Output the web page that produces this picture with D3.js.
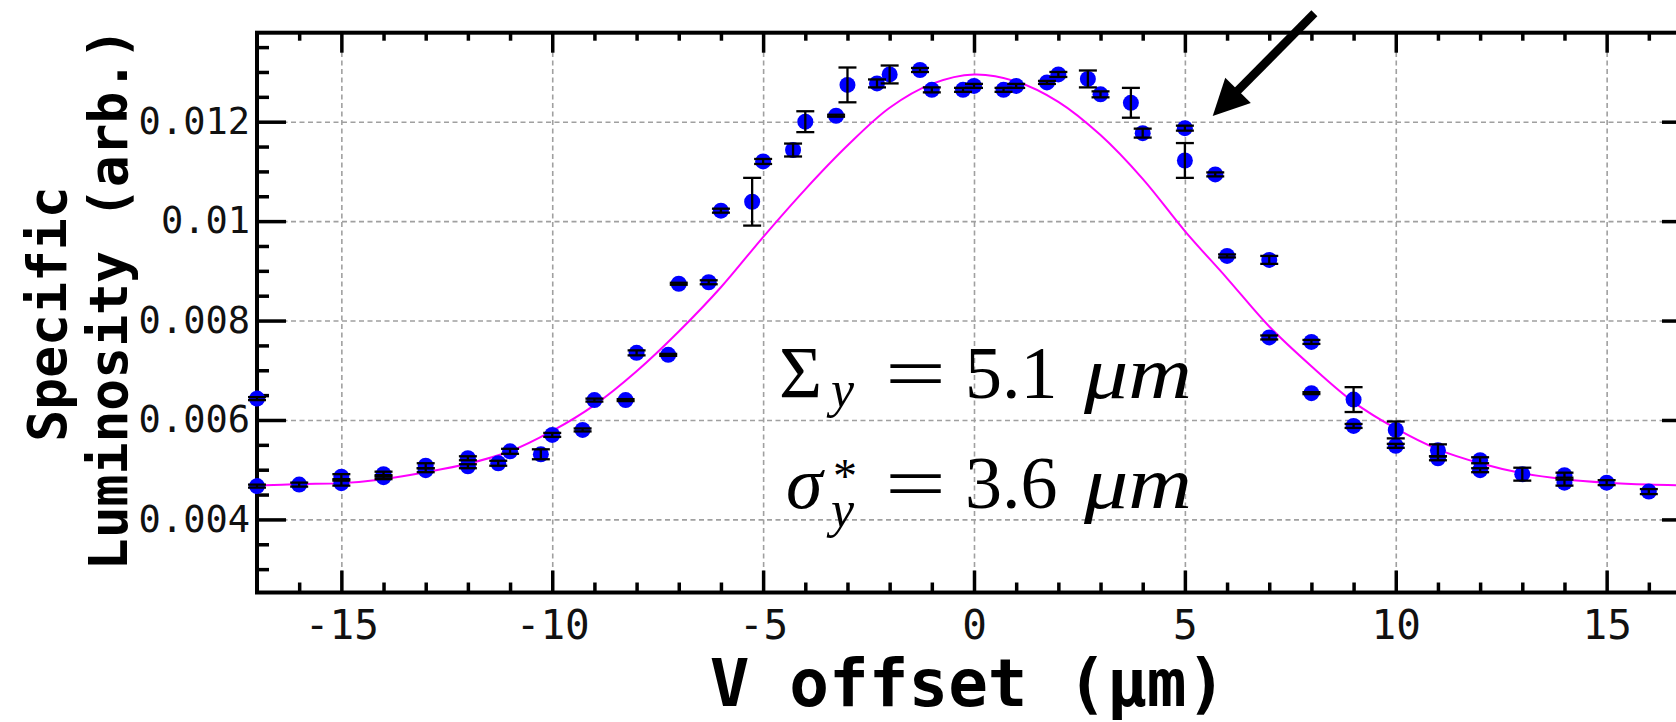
<!DOCTYPE html>
<html><head><meta charset="utf-8">
<script src="https://cdn.jsdelivr.net/npm/d3@7"></script>
<style>body{margin:0;background:#fff;} svg{display:block;}</style>
</head><body>
<svg id="chart" width="1676" height="722"></svg>
<script>
// ---- data ----
const xOffset = [-17,-17,-16,-15,-15,-14,-14,-13,-13,-12,-12,-11.28,-11,-10.27,-10,-9.28,-9,-8.26,-8,-7.25,-7,-6.29,-6,-5.26,-5,-4.29,-4,-3.27,-3,-2.3,-2,-1.28,-1,-0.26,0,0.7,1,1.73,2,2.7,3,3.72,4,5,5,5.72,6,7,7,8,8,9,9,10,10,11,11,12,12,13,14,14,15,16];
const lumi = [0.00643,0.00467,0.00470,0.00486,0.00473,0.00491,0.00485,0.00508,0.00499,0.00523,0.00507,0.00513,0.00537,0.00531,0.00570,0.00580,0.00640,0.00640,0.00735,0.00731,0.00874,0.00877,0.01021,0.01039,0.01120,0.01143,0.01200,0.01212,0.01274,0.01277,0.01295,0.01304,0.01264,0.01264,0.01272,0.01264,0.01272,0.01279,0.01295,0.01286,0.01255,0.01238,0.01177,0.01187,0.01122,0.01094,0.00930,0.00922,0.00766,0.00757,0.00654,0.00641,0.00588,0.00580,0.00548,0.00539,0.00523,0.00519,0.00499,0.00491,0.00489,0.00474,0.00474,0.00456];
const lumiErr = [0.00003,0.00003,0.00004,0.00005,0.00005,0.00005,0.00004,0.00005,0.00004,0.00004,0.00004,0.00005,0.00005,0.00010,0.00004,0.00003,0.00003,0.00002,0.00005,0.00002,0.00002,0.00004,0.00004,0.00048,0.00005,0.00013,0.00021,0.00002,0.00035,0.00008,0.00018,0.00004,0.00005,0.00004,0.00004,0.00004,0.00004,0.00003,0.00005,0.00017,0.00006,0.00030,0.00009,0.00005,0.00035,0.00004,0.00003,0.00008,0.00004,0.00004,0.00002,0.00025,0.00004,0.00017,0.00004,0.00012,0.00004,0.00006,0.00004,0.00013,0.00005,0.00006,0.00005,0.00005];

// fit curve at integer offsets
const fitX = [-17,-16,-15,-14,-13,-12,-11,-10,-9,-8,-7,-6,-5,-4,-3,-2,-1,0,1,2,3,4,5,6,7,8,9,10,11,12,13,14,15,16,17];
const fitY = [0.00468,0.00471,0.00473,0.00481,0.00495,0.00512,0.00537,0.00578,0.00630,0.00698,0.00778,0.00867,0.00968,0.01064,0.01152,0.01228,0.01276,0.01295,0.01281,0.01240,0.01173,0.01085,0.00980,0.00885,0.00788,0.00708,0.00636,0.00583,0.00541,0.00513,0.00493,0.00481,0.00474,0.00470,0.00468];

const xTickValues = [-15,-10,-5,0,5,10,15];
const xTickLabels = ["-15","-10","-5","0","5","10","15"];
const yTickValues = [0.004,0.006,0.008,0.010,0.012];
const yTickLabels = ["0.004","0.006","0.008","0.01","0.012"];
const xMinorTicks = [-16,-14,-13,-12,-11,-9,-8,-7,-6,-4,-3,-2,-1,1,2,3,4,6,7,8,9,11,12,13,14,16];
const yMinorTicks = [0.0030,0.0035,0.0045,0.0050,0.0055,0.0065,0.0070,0.0075,0.0085,0.0090,0.0095,0.0105,0.0110,0.0115,0.0125,0.0130,0.0135];
const xDomain = [-17, 17];
const yDomain = [0.00253, 0.01379];
const xTitle = "V offset (µm)";
const yTitleLines = ["Specific", "Luminosity (arb.)"];
const arrowTail = [8.07, 0.01418];
const arrowTip = [5.66, 0.012115];

// ---- drawing ----
const svg = d3.select("#chart");
svg.append("rect").attr("width",1676).attr("height",722).attr("fill","#fff");
const L = 257, R = 1691, T = 32.7, B = 592.5;
const x = d3.scaleLinear().domain(xDomain).range([L, R]);
const y = d3.scaleLinear().domain(yDomain).range([B, T]);
const mono = "'DejaVu Sans Mono', monospace";

// grid
const gx = svg.append("g").attr("transform",`translate(0,${B})`)
  .call(d3.axisBottom(x).tickValues(xTickValues).tickSize(-(B-T)).tickFormat(""));
const gy = svg.append("g").attr("transform",`translate(${L},0)`)
  .call(d3.axisLeft(y).tickValues(yTickValues).tickSize(-(R-L)).tickFormat(""));
[gx, gy].forEach(g => {
  g.select(".domain").remove();
  g.selectAll("line").attr("stroke","#a0a0a0").attr("stroke-width",1.6).attr("stroke-dasharray","5,3.5");
});

// fit curve
const line = d3.line().x((d,i)=>x(fitX[i])).y(d=>y(d)).curve(d3.curveCatmullRom.alpha(0.5));
svg.append("path").attr("d", line(fitY)).attr("fill","none").attr("stroke","#ff00ff").attr("stroke-width",2);

// axes ticks
function styleAxis(g){ g.select(".domain").remove(); g.selectAll("line").attr("stroke","#000").attr("stroke-width",3.5); }
const axB = svg.append("g").attr("transform",`translate(0,${B})`)
  .call(d3.axisBottom(x).tickValues(xTickValues).tickSize(-22).tickSizeOuter(0).tickPadding(17).tickFormat((d,i)=>xTickLabels[i]));
styleAxis(axB);
axB.selectAll("text").attr("font-family",mono).attr("font-size",41).attr("fill","#111");
const axBm = svg.append("g").attr("transform",`translate(0,${B})`)
  .call(d3.axisBottom(x).tickValues(xMinorTicks).tickSize(-10).tickFormat(""));
styleAxis(axBm);
const axT = svg.append("g").attr("transform",`translate(0,${T})`)
  .call(d3.axisTop(x).tickValues(xTickValues).tickSize(-20).tickFormat(""));
styleAxis(axT);
const axTm = svg.append("g").attr("transform",`translate(0,${T})`)
  .call(d3.axisTop(x).tickValues(xMinorTicks).tickSize(-8).tickFormat(""));
styleAxis(axTm);
const axL = svg.append("g").attr("transform",`translate(${L},0)`)
  .call(d3.axisLeft(y).tickValues(yTickValues).tickSize(-29).tickPadding(7).tickFormat((d,i)=>yTickLabels[i]));
styleAxis(axL);
axL.selectAll("text").attr("font-family",mono).attr("font-size",37).attr("fill","#111");
const axLm = svg.append("g").attr("transform",`translate(${L},0)`)
  .call(d3.axisLeft(y).tickValues(yMinorTicks).tickSize(-12).tickFormat(""));
styleAxis(axLm);
const axR = svg.append("g").attr("transform",`translate(${R},0)`)
  .call(d3.axisRight(y).tickValues(yTickValues).tickSize(-29).tickFormat(""));
styleAxis(axR);
const axRm = svg.append("g").attr("transform",`translate(${R},0)`)
  .call(d3.axisRight(y).tickValues(yMinorTicks).tickSize(-12).tickFormat(""));
styleAxis(axRm);

// frame
svg.append("rect").attr("x",L).attr("y",T).attr("width",R-L).attr("height",B-T)
  .attr("fill","none").attr("stroke","#000").attr("stroke-width",4);

// markers
svg.append("g").selectAll("circle").data(lumi).join("circle")
  .attr("cx",(d,i)=>x(xOffset[i])).attr("cy",d=>y(d)).attr("r",8).attr("fill","#0000ff");

// error bars
const eb = svg.append("g").attr("stroke","#000").attr("stroke-width",2.3);
lumi.forEach((v,i)=>{
  const cx = x(xOffset[i]), y1 = y(v+lumiErr[i]), y2 = y(v-lumiErr[i]);
  eb.append("line").attr("x1",cx).attr("x2",cx).attr("y1",y1).attr("y2",y2);
  eb.append("line").attr("x1",cx-9).attr("x2",cx+9).attr("y1",y1).attr("y2",y1);
  eb.append("line").attr("x1",cx-9).attr("x2",cx+9).attr("y1",y2).attr("y2",y2);
});

// axis titles
svg.append("text").attr("x",968).attr("y",706).attr("text-anchor","middle")
  .attr("font-family",mono).attr("font-weight","bold").attr("font-size",66).text(xTitle);
const yBase = [[66,314],[127,299]];
yTitleLines.forEach((t,i)=>{
  svg.append("text").attr("transform",`translate(${yBase[i][0]},${yBase[i][1]}) rotate(-90)`)
    .attr("text-anchor","middle").attr("font-family",mono).attr("font-weight","bold").attr("font-size",53).text(t);
});

// annotation text
const serif = "'Liberation Serif', 'DejaVu Serif', serif";
function tx(xp, yp, s, size, italic, extra){
  const t = svg.append("text").attr("x",xp).attr("y",yp).attr("font-family",serif)
    .attr("font-size",size).attr("font-style",italic?"italic":"normal").attr("fill","#000").text(s);
  if(extra) Object.entries(extra).forEach(([k,v])=>t.attr(k,v));
  return t;
}
// line 1: Σ_y = 5.1 μm
const t1 = svg.append("text").attr("x",779).attr("y",398).attr("font-family",serif).attr("fill","#000");
t1.append("tspan").attr("font-size",74).text("Σ");
t1.append("tspan").attr("x",831).attr("dy",9).attr("font-size",52).attr("font-style","italic").text("y");
tx(885,398,"=",74,false,{textLength:61,lengthAdjust:"spacingAndGlyphs"});
tx(965,398,"5.1",74,false);
tx(1084,398,"μm",74,true,{textLength:108,lengthAdjust:"spacingAndGlyphs"});
// line 2: σ*_y = 3.6 μm
const t2 = svg.append("text").attr("x",786).attr("y",508).attr("font-family",serif).attr("fill","#000");
t2.append("tspan").attr("font-size",74).attr("font-style","italic").text("σ");
t2.append("tspan").attr("x",833).attr("dy",-16).attr("font-size",48).text("*");
t2.append("tspan").attr("x",831).attr("dy",35).attr("font-size",52).attr("font-style","italic").text("y");
tx(885,508,"=",74,false,{textLength:61,lengthAdjust:"spacingAndGlyphs"});
tx(965,508,"3.6",74,false);
tx(1084,508,"μm",74,true,{textLength:108,lengthAdjust:"spacingAndGlyphs"});

// arrow
const tail = [x(arrowTail[0]), y(arrowTail[1])], tip = [x(arrowTip[0]), y(arrowTip[1])];
const dx = tail[0]-tip[0], dy = tail[1]-tip[1], len = Math.hypot(dx,dy);
const ux = dx/len, uy = dy/len, px = -uy, py = ux;
const headLen = 36, headHalf = 18;
const base = [tip[0]+ux*headLen, tip[1]+uy*headLen];
svg.append("line").attr("x1",tail[0]).attr("y1",tail[1]).attr("x2",base[0]-ux*2).attr("y2",base[1]-uy*2)
  .attr("stroke","#000").attr("stroke-width",8.5);
svg.append("polygon").attr("points",[tip,[base[0]+px*headHalf,base[1]+py*headHalf],[base[0]-px*headHalf,base[1]-py*headHalf]].map(p=>p.join(",")).join(" "))
  .attr("fill","#000");
</script>
</body></html>
